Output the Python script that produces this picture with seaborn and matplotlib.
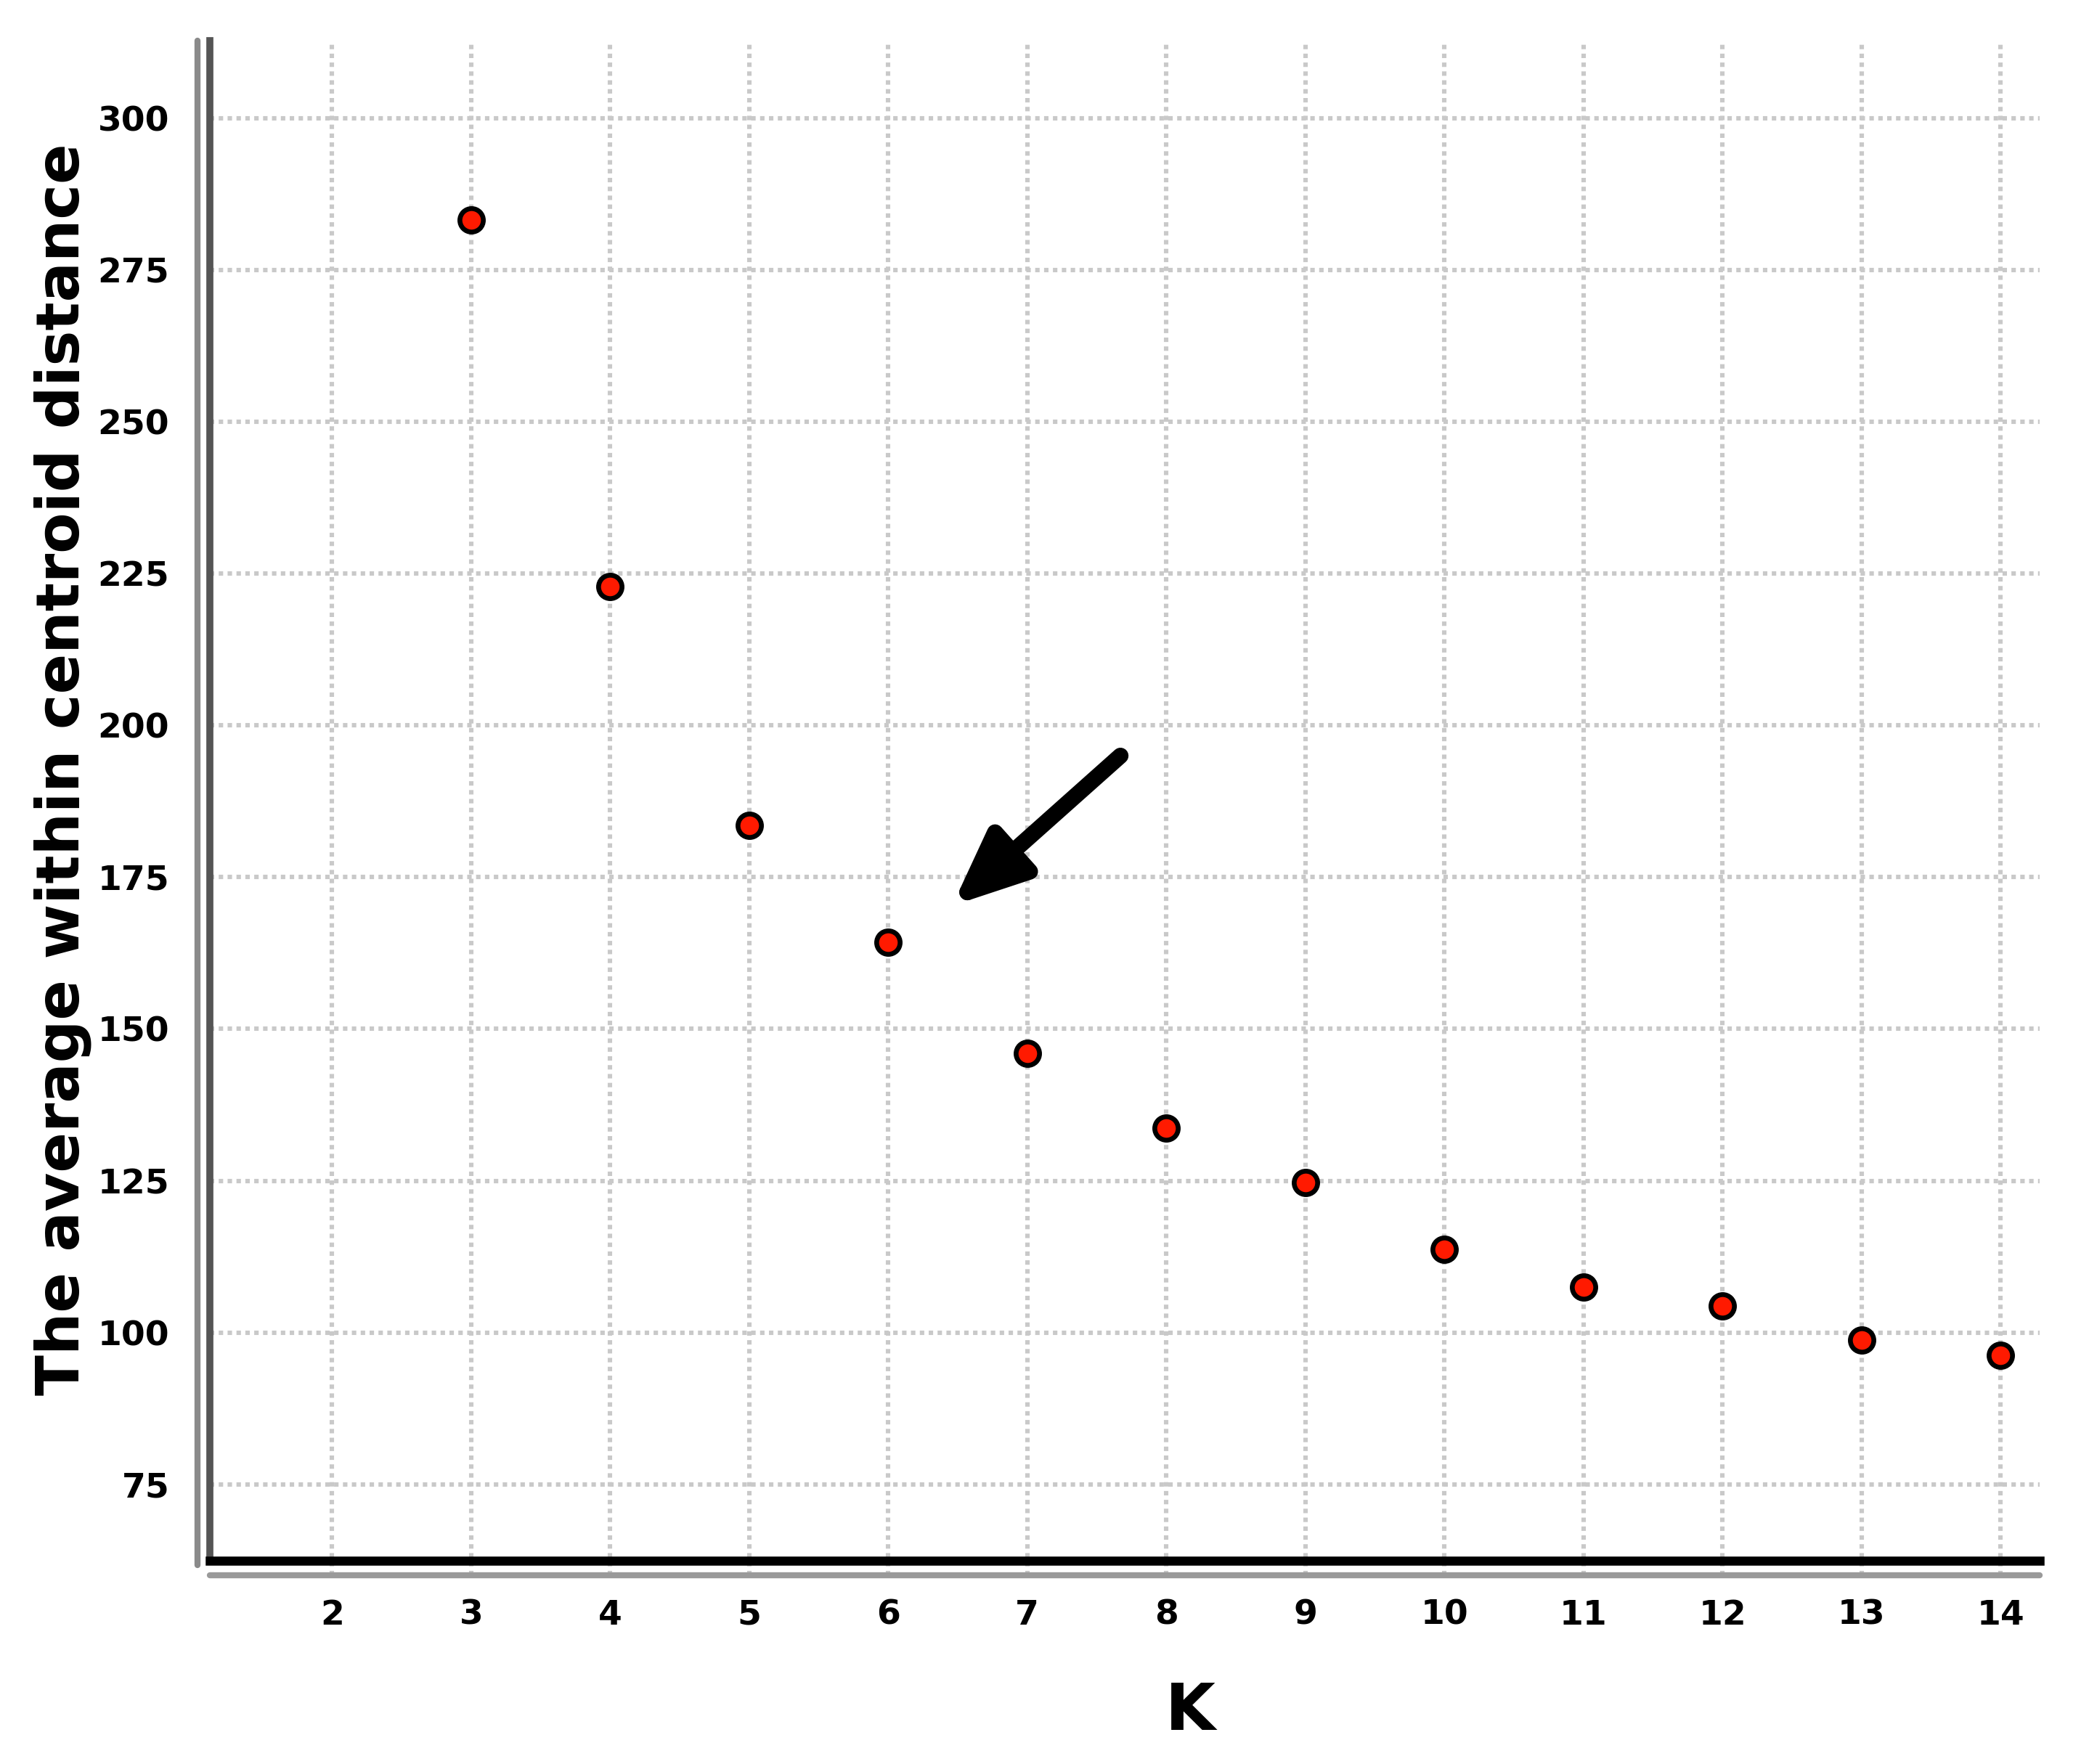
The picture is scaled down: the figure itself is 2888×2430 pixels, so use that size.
import numpy as np
import pandas as pd
import matplotlib
matplotlib.use("Agg")
import matplotlib.pyplot as plt
import seaborn as sns

# ---- data ----
K_values = [3, 4, 5, 6, 7, 8, 9, 10, 11, 12, 13, 14]
avg_distance = [283.3, 222.9, 183.5, 164.3, 146.0, 133.7, 124.7, 113.7, 107.5, 104.4, 98.7, 96.3]

x_ticks = list(range(2, 15))
y_ticks = [75, 100, 125, 150, 175, 200, 225, 250, 275, 300]

# arrow pointing at the elbow (data coords)
arrow_tail = (7.67, 195.0)
arrow_head = (6.46, 170.3)

df = pd.DataFrame({"K": K_values, "dist": avg_distance})

sns.set_theme(style="white")
plt.rcParams['font.family'] = ['DejaVu Sans']
plt.rcParams['text.color'] = 'black'
plt.rcParams['axes.labelcolor'] = 'black'
plt.rcParams['xtick.color'] = 'black'
plt.rcParams['ytick.color'] = 'black'

fig = plt.figure(figsize=(14.44, 12.15), dpi=200)
ax = fig.add_axes([0.100, 0.1152, 0.8726, 0.8618])

grid_kw = dict(color="#c9c9c9", linestyle=(0, (1, 1)), linewidth=2.2, zorder=0)
for yt in y_ticks:
    ax.axhline(yt, **grid_kw)
for xt in x_ticks:
    ax.axvline(xt, ymin=-0.0097, ymax=1, clip_on=False, **grid_kw)

sns.scatterplot(data=df, x="K", y="dist", ax=ax, s=135, color="#ff1a00",
                edgecolor="black", linewidth=2.4, zorder=3)

ax.annotate("", xy=arrow_head, xytext=arrow_tail,
            arrowprops=dict(arrowstyle="-|>,head_length=1.5,head_width=0.65",
                            mutation_scale=20, color="black", lw=8,
                            shrinkA=0, shrinkB=0))

ax.set_xlim(1.12, 14.28)
ax.set_ylim(62.4, 312.8)
ax.set_xticks(x_ticks)
ax.set_yticks(y_ticks)
ax.set_xticklabels([str(t) for t in x_ticks], fontsize=17, fontweight="bold")
ax.set_yticklabels([str(t) for t in y_ticks], fontsize=17, fontweight="bold")
ax.tick_params(axis="x", length=0, pad=19)
ax.tick_params(axis="y", length=0, pad=20)

# axis frame: double left line, thick bottom line with a grey shadow line
for s in ["top", "right"]:
    ax.spines[s].set_visible(False)
ax.spines["left"].set_color("#555555")
ax.spines["left"].set_linewidth(3.5)
ax.spines["bottom"].set_color("black")
ax.spines["bottom"].set_linewidth(4.5)
ax.plot([-0.0066, -0.0066], [-0.003, 1.0], transform=ax.transAxes,
        color="#8a8a8a", lw=3, clip_on=False)
ax.plot([0.0, 1.0], [-0.0097, -0.0097], transform=ax.transAxes,
        color="#9a9a9a", lw=3, clip_on=False)

ax.set_xlabel("K", fontsize=32, fontweight="bold")
ax.set_ylabel("The average within centroid distance", fontsize=29.5, fontweight="bold")
ax.xaxis.set_label_coords(0.536, -0.0994)
ax.xaxis.label.set_va("center")
ax.yaxis.set_label_coords(-0.0804, 0.5207)
ax.yaxis.label.set_va("center")

fig.savefig("out.png", dpi=200, facecolor="white")
